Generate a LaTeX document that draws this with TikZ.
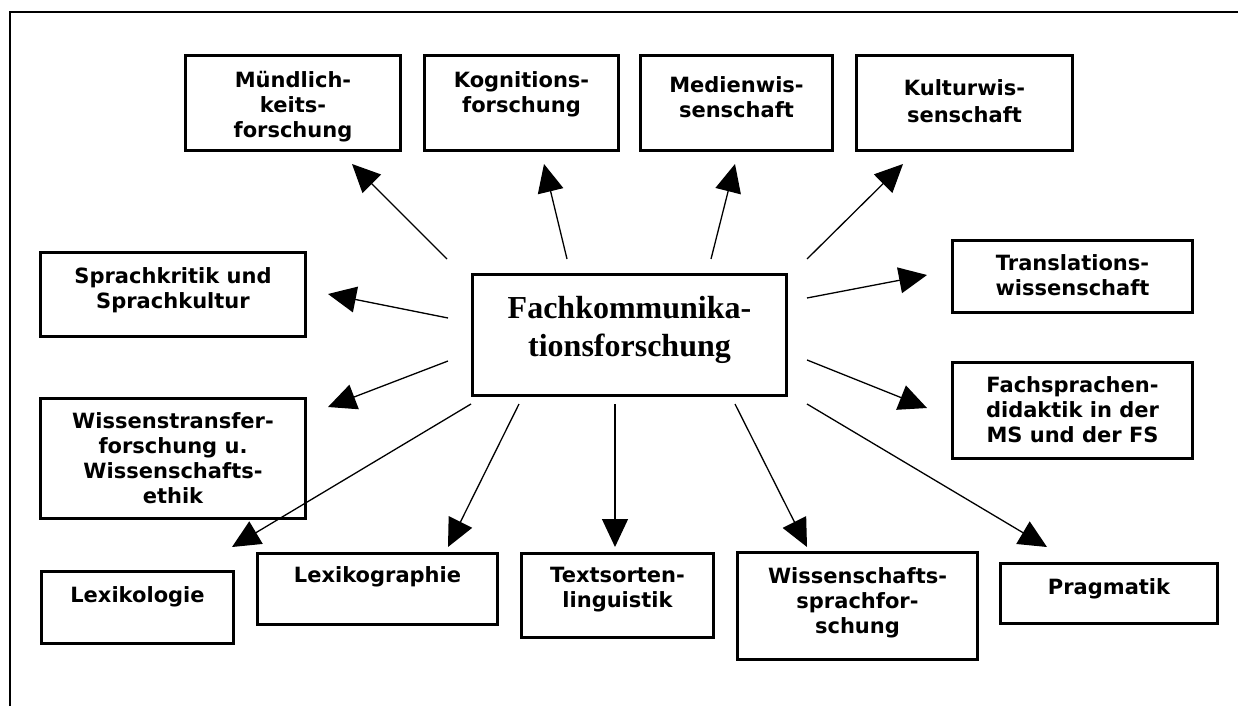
\documentclass[tikz,border=0pt]{standalone}
\usepackage{fontspec}
\setmainfont{DejaVu Sans}
\newfontfamily\serifbold{Liberation Serif}
\usetikzlibrary{arrows.meta}

\begin{document}
\begin{tikzpicture}[x=1pt,y=-1pt,
  box/.style={draw, line width=3pt, rectangle, inner sep=0pt, anchor=north west},
  lbl/.style={anchor=north, align=center, inner sep=0pt,
    font=\fontsize{21}{25}\selectfont\bfseries},
  mainlbl/.style={anchor=north, align=center, inner sep=0pt,
    font=\serifbold\fontsize{32}{38}\selectfont\bfseries},
  link/.style={line width=1.3pt, -{Triangle[length=28pt,width=26pt]}},
]
\useasboundingbox (0,0) rectangle (1238,706);

% open frame: left and top edges only
\draw[line width=2.5pt] (10,706) -- (10,12) -- (1238,12);

% central topic
\node[box, minimum width=314pt, minimum height=121pt] (c) at (471,273) {};
\node[mainlbl] (c-t) at ([yshift=-23pt]c.north) {Fachkommunika-\\tionsforschung};

% upper row
\node[box, minimum width=215pt, minimum height=95pt] (m) at (184,54) {};
\node[lbl] (m-t) at ([yshift=-17pt]m.north) {Mündlich-\\keits-\\forschung};

\node[box, minimum width=194pt, minimum height=95pt] (kog) at (423,54) {};
\node[lbl] (kog-t) at ([yshift=-17pt]kog.north) {Kognitions-\\forschung};

\node[box, minimum width=192pt, minimum height=95pt] (med) at (639,54) {};
\node[lbl] (med-t) at ([yshift=-22pt]med.north) {Medienwis-\\senschaft};

\node[box, minimum width=216pt, minimum height=95pt] (kul) at (855,54) {};
\node[lbl] (kul-t) at ([yshift=-25pt]kul.north) {Kulturwis-\\[2pt]senschaft};

% left column
\node[box, minimum width=265pt, minimum height=84pt] (spr) at (39,251) {};
\node[lbl] (spr-t) at ([yshift=-16pt]spr.north) {Sprachkritik und\\Sprachkultur};

\node[box, minimum width=265pt, minimum height=120pt] (wis) at (39,397) {};
\node[lbl] (wis-t) at ([yshift=-15pt]wis.north) {Wissenstransfer-\\forschung u.\\Wissenschafts-\\ethik};

% right column
\node[box, minimum width=240pt, minimum height=72pt] (tra) at (951,239) {};
\node[lbl] (tra-t) at ([yshift=-15pt]tra.north) {Translations-\\wissenschaft};

\node[box, minimum width=240pt, minimum height=96pt] (fach) at (951,361) {};
\node[lbl] (fach-t) at ([yshift=-15pt]fach.north) {Fachsprachen-\\didaktik in der\\MS und der FS};

% lower row
\node[box, minimum width=192pt, minimum height=72pt] (lexo) at (40,570) {};
\node[lbl] (lexo-t) at ([yshift=-16pt]lexo.north) {Lexikologie};

\node[box, minimum width=240pt, minimum height=71pt] (lexg) at (256,552) {};
\node[lbl] (lexg-t) at ([yshift=-14pt]lexg.north) {Lexikographie};

\node[box, minimum width=192pt, minimum height=84pt] (txt) at (520,552) {};
\node[lbl] (txt-t) at ([yshift=-15pt]txt.north) {Textsorten-\\linguistik};

\node[box, minimum width=240pt, minimum height=107pt] (wsf) at (736,551) {};
\node[lbl] (wsf-t) at ([yshift=-16pt]wsf.north) {Wissenschafts-\\sprachfor-\\schung};

\node[box, minimum width=217pt, minimum height=60pt] (prag) at (999,562) {};
\node[lbl] (prag-t) at ([yshift=-16pt]prag.north) {Pragmatik};

% connector end points around the central topic
\coordinate (m-from)    at (447,259);  \coordinate (m-to)    at (352,164);
\coordinate (kog-from)  at (567,259);  \coordinate (kog-to)  at (544,164);
\coordinate (med-from)  at (711,259);  \coordinate (med-to)  at (735,164);
\coordinate (kul-from)  at (807,259);  \coordinate (kul-to)  at (903,164);
\coordinate (spr-from)  at (448,318);  \coordinate (spr-to)  at (328,294);
\coordinate (wis-from)  at (448,361);  \coordinate (wis-to)  at (328,407);
\coordinate (tra-from)  at (807,298);  \coordinate (tra-to)  at (927,275);
\coordinate (fach-from) at (807,360);  \coordinate (fach-to) at (927,408);
\coordinate (lexo-from) at (471,404);  \coordinate (lexo-to) at (232,547);
\coordinate (lexg-from) at (519,404);  \coordinate (lexg-to) at (448,547);
\coordinate (txt-from)  at (615,404);  \coordinate (txt-to)  at (615,547);
\coordinate (wsf-from)  at (735,404);  \coordinate (wsf-to)  at (807,547);
\coordinate (prag-from) at (807,404);  \coordinate (prag-to) at (1047,547);

\foreach \n in {m,kog,med,kul,spr,wis,tra,fach,lexo,lexg,txt,wsf,prag}
  \draw[link] (\n-from) -- (\n-to);
\end{tikzpicture}
\end{document}
